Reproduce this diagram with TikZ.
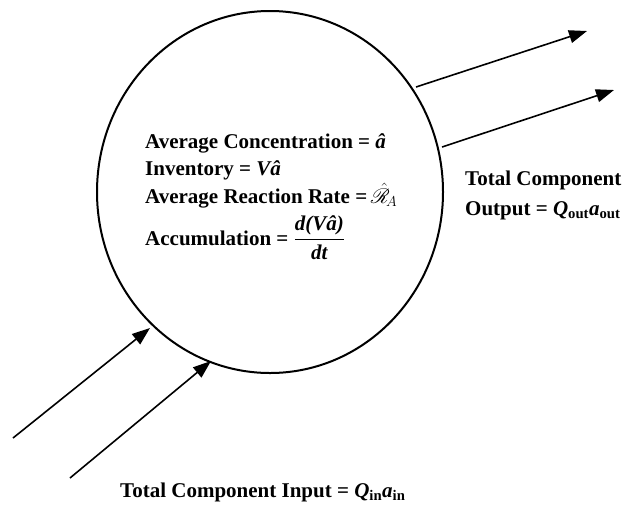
\documentclass[tikz,border=0pt]{standalone}
\usepackage{amsmath}
\usepackage{mathrsfs}
\usepackage{fontspec}
\setmainfont{Liberation Serif}
\usetikzlibrary{arrows.meta,shapes.geometric}

\begin{document}
\begin{tikzpicture}[x=1pt,y=-1pt,
    txt/.style={anchor=base west,inner sep=0pt,font=\fontsize{21}{25}\selectfont\bfseries},
    flow/.style={line width=1.6pt,-{Triangle[length=18pt,width=13pt]}}]
        \useasboundingbox (0,0) rectangle (623,515);

        % Control volume
        \node[ellipse,draw,line width=2pt,minimum width=346pt,minimum height=362pt,inner sep=0pt] (cv) at (270,192) {};

        % Text inside
        \node[txt] (conc) at (145,148) {Average Concentration = \textit{â}};
        \node[txt] (inv) at (145,175) {Inventory = \textit{Vâ}};
        \node[txt] (rate) at (145,203) {Average Reaction Rate =\,$\hat{\mathscr{R}}_{\!A}$};
        \node[txt] (acc) at (145,245) {Accumulation = $\dfrac{\text{\bfseries\itshape d(Vâ)}}{\text{\bfseries\itshape dt}}$};

        % Outflows
        \coordinate (outa) at (416,87);
        \coordinate (outb) at (442,147);
        \coordinate (enda) at (587,31);
        \coordinate (endb) at (614,90);
        \draw[flow] (outa) -- (enda);
        \draw[flow] (outb) -- (endb);
        \node[txt] (outl1) at (465,185) {Total Component};
        \node[txt] (outl2) at (465,215) {Output = \textit{Q}\textsubscript{out}\textit{a}\textsubscript{out}};

        % Inflows
        \coordinate (ina) at (13,438);
        \coordinate (inb) at (70,478);
        \coordinate (tipa) at (150,328);
        \coordinate (tipb) at (211,361);
        \draw[flow] (ina) -- (tipa);
        \draw[flow] (inb) -- (tipb);
        \node[txt] (inl) at (120,497) {Total Component Input = \textit{Q}\textsubscript{in}\textit{a}\textsubscript{in}};
\end{tikzpicture}
\end{document}
